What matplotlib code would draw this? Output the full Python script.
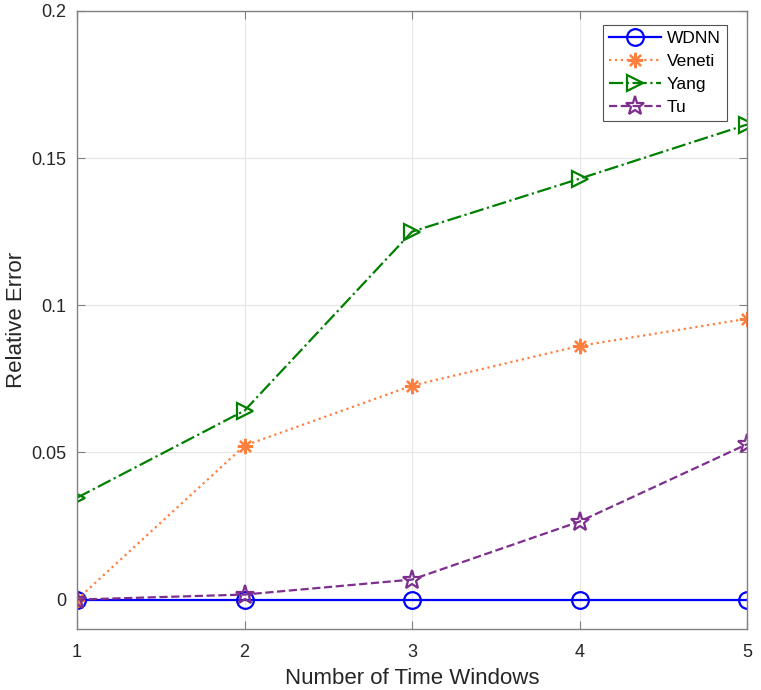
import matplotlib
matplotlib.use("Agg")
from matplotlib import pyplot as plt
from matplotlib.ticker import FuncFormatter

windows = [1, 2, 3, 4, 5]
wdnn = [0, 0, 0, 0, 0]
veneti = [0, 0.0523, 0.0727, 0.0862, 0.0954]
yang = [0.0346, 0.0642, 0.1250, 0.1430, 0.1614]
tu = [0, 0.0017, 0.0068, 0.0265, 0.0528]

plt.rcParams["font.family"] = ["Liberation Sans", "DejaVu Sans"]

fig = plt.figure(figsize=(7.61, 6.90), dpi=100)
ax = fig.add_axes([0.1012, 0.0884, 0.8804, 0.8957])

ax.plot(windows, wdnn, color="#0000ff", linestyle="-", linewidth=1.6,
        marker="o", markersize=12, markerfacecolor="none", markeredgewidth=1.6,
        label="WDNN")
ax.plot(windows, veneti, color="#ff7f3f", linestyle=":", linewidth=1.6,
        marker=(8, 2, 0), markersize=11, markeredgewidth=1.6,
        label="Veneti")
ax.plot(windows, yang, color="#008000", linestyle="-.", linewidth=1.6,
        marker=">", markersize=12, markerfacecolor="none", markeredgewidth=1.6,
        label="Yang")
ax.plot(windows, tu, color="#7e2f8e", linestyle="--", linewidth=1.6,
        marker="*", markersize=14, markerfacecolor="none", markeredgewidth=1.6,
        label="Tu")

ax.set_xlim(1, 5)
ax.set_ylim(-0.01, 0.2)
ax.set_xticks(windows)
ax.set_yticks([0, 0.05, 0.1, 0.15, 0.2])
ax.yaxis.set_major_formatter(FuncFormatter(lambda v, p: "%g" % v))

ax.grid(True, color="#e6e6e6", linewidth=0.8)
ax.set_axisbelow(True)
for s in ax.spines.values():
    s.set_color("#808080")
    s.set_linewidth(1.0)
ax.tick_params(direction="in", length=6, color="#808080", labelsize=13,
               labelcolor="#262626", top=True, right=True)
ax.tick_params(axis="x", pad=11)
ax.tick_params(axis="y", pad=8)

ax.set_xlabel("Number of Time Windows", fontsize=16, color="#262626", labelpad=5)
ax.set_ylabel("Relative Error", fontsize=16, color="#262626", labelpad=3)

leg = ax.legend(loc="upper right", bbox_to_anchor=(0.970, 0.977), borderaxespad=0,
                fontsize=12.5, frameon=True, fancybox=False, edgecolor="#262626",
                handlelength=3.0, borderpad=0.35, labelspacing=0.45,
                handletextpad=0.35)
leg.get_frame().set_linewidth(0.8)

fig.savefig("out.png", dpi=100)
